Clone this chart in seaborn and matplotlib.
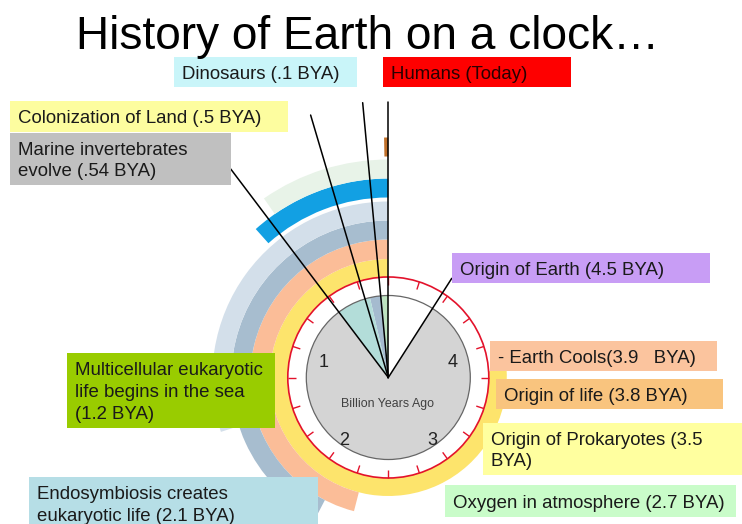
import numpy as np
import pandas as pd
import matplotlib
matplotlib.use("Agg")
import matplotlib.pyplot as plt
from matplotlib.patches import Wedge, Circle, Rectangle
from matplotlib.collections import LineCollection
import seaborn as sns

# ---------------- data ----------------
title = "History of Earth on a clock\u2026"
clock_span_bya = 5.0            # one full turn of the clock
clock_numbers = [1, 2, 3, 4]
tick_step_bya = 0.25

# event labels (text lines) and box colours
event_labels = [
    ["Dinosaurs (.1 BYA)"],
    ["Humans (Today)"],
    ["Colonization of Land (.5 BYA)"],
    ["Marine invertebrates", "evolve (.54 BYA)"],
    ["Origin of Earth (4.5 BYA)"],
    ["- Earth Cools(3.9   BYA)"],
    ["Origin of life (3.8 BYA)"],
    ["Origin of Prokaryotes (3.5", "BYA)"],
    ["Oxygen in atmosphere (2.7 BYA)"],
    ["Multicellular eukaryotic", "life begins in the sea", "(1.2 BYA)"],
    ["Endosymbiosis creates", "eukaryotic life (2.1 BYA)"],
]
event_colors = ["#c9f5f9", "#fe0000", "#fdfd9f", "#c0c0c0", "#c89df5",
                "#fbc49e", "#f9c47e", "#ffff9f", "#c9fcc9", "#99cc00", "#b6dee6"]

# pointer lines (drawn angle, in BYA)
pointer_names = ["Humans", "Dinosaurs", "Colonization", "Marine", "Origin of Earth"]
pointer_bya = [0.0, 0.074, 0.229, 0.515, 4.547]

# coloured sectors inside the dial
disc_start_bya = [0.0, 0.064, 0.18, 0.52]
disc_end_bya = [0.064, 0.18, 0.52, 4.547]
disc_colors = ["#bde3c0", "#a5bbcf", "#b3ddd9", "#d4d4d4"]

# coloured arcs outside the dial (all start at today = 0)
band_end_bya = [3.8, 2.3, 2.12, 1.5, 0.58, 0.483, 0.014]
band_colors = ["#fde46c", "#fbbd98", "#a7bdcf", "#d3dfea", "#12a0e3", "#e8f3e8", "#c0702a"]

# ---------------- layout (pixels) ----------------
W, H = 742, 524
cx, cy = 388.3, 377.5
r_disc, r_red = 82, 100.5
band_r_in = [100.5, 118.5, 138, 157, 180, 199, 221]
band_r_out = [118.5, 138, 157, 176, 199, 218, 240]
pointer_len = [276, 276, 273.7, 261.4, 117.7]
number_r = [66, 77, 77, 66]
number_dphi = [5, 1, -1, -5]
boxes = [  # left, top, right, bottom
    (174, 57, 357, 87), (383, 57, 571, 87), (10, 101, 288, 132),
    (10, 133, 231, 185), (452, 253, 710, 283), (490, 341, 717, 371),
    (496, 379, 723, 409), (483, 423, 745, 475), (445, 485, 736, 517),
    (67, 353, 275, 428), (29, 477, 318, 530),
]
text_colors = ["#1a1a1a", "#2a0000"] + ["#1a1a1a"] * 9

sns.set_theme(style="white")
plt.rcParams["font.family"] = ["Liberation Sans", "DejaVu Sans"]

fig = plt.figure(figsize=(W / 100, H / 100), dpi=100)
ax = fig.add_axes([0, 0, 1, 1])


def theta(bya):
    """data-space angle (pixel coords with y down) for a clock value"""
    return -90 - bya / clock_span_bya * 360.0


def pos(bya, r):
    phi = np.deg2rad(bya / clock_span_bya * 360.0)
    return cx - r * np.sin(phi), cy - r * np.cos(phi)


# outer arcs
for end, col, ri, ro in zip(band_end_bya, band_colors, band_r_in, band_r_out):
    ax.add_patch(Wedge((cx, cy), ro, theta(end), theta(0), width=ro - ri,
                       facecolor=col, edgecolor="none", zorder=1))

# white face between disc and red ring
ax.add_patch(Circle((cx, cy), r_red, facecolor="white", edgecolor="none", zorder=2))
# dial sectors
for s, e, col in zip(disc_start_bya, disc_end_bya, disc_colors):
    ax.add_patch(Wedge((cx, cy), r_disc, theta(e), theta(s), facecolor=col,
                       edgecolor="none", zorder=3))
ax.add_patch(Circle((cx, cy), r_disc, facecolor="none", edgecolor="#666666",
                    lw=0.9, zorder=3.5))
# red ring and ticks
ax.add_patch(Circle((cx, cy), r_red, facecolor="none", edgecolor="#e3122b",
                    lw=1.2, zorder=4))
ticks = np.arange(0, clock_span_bya, tick_step_bya)
segs = [[pos(t, r_red), pos(t, r_red - 8)] for t in ticks]
ax.add_collection(LineCollection(segs, colors="#e3122b", linewidths=1.0, zorder=4))

for n, rr, dp in zip(clock_numbers, number_r, number_dphi):
    x, y = pos(n + dp / 72.0, rr)
    ax.text(x, y, str(n), fontsize=13, color="#222222", ha="center", va="center",
            zorder=4)
ax.text(cx - 1, cy + 26, "Billion Years Ago", fontsize=8.9, color="#404040",
        ha="center", va="center", zorder=4)

# pointer lines (seaborn)
rows = []
for name, b, L in zip(pointer_names, pointer_bya, pointer_len):
    x1, y1 = pos(b, L)
    rows.append({"event": name, "x": cx, "y": cy, "k": 0})
    rows.append({"event": name, "x": x1, "y": y1, "k": 1})
df = pd.DataFrame(rows)
sns.lineplot(data=df, x="x", y="y", units="event", estimator=None, sort=False,
             color="black", lw=1.1, ax=ax, legend=False, zorder=5)

# label boxes
em, cap, lsp = 13.4, 13.3, 21.7
for lines, col, (l, t, r, b), tc in zip(event_labels, event_colors, boxes, text_colors):
    ax.add_patch(Rectangle((l, t), r - l, b - t, facecolor=col, edgecolor="none",
                           zorder=6))
    total = cap + (len(lines) - 1) * lsp
    base0 = (t + b) / 2 - total / 2 + cap
    for i, line in enumerate(lines):
        ax.text(l + 8, base0 + i * lsp, line, fontsize=em, color=tc,
                ha="left", va="baseline", zorder=7)

ax.text(367.5, 49.3, title, fontsize=33.1, color="black", ha="center",
        va="baseline", zorder=7)

ax.set_xlim(0, W)
ax.set_ylim(H, 0)
ax.set_axis_off()
fig.savefig("out.png", dpi=100)
